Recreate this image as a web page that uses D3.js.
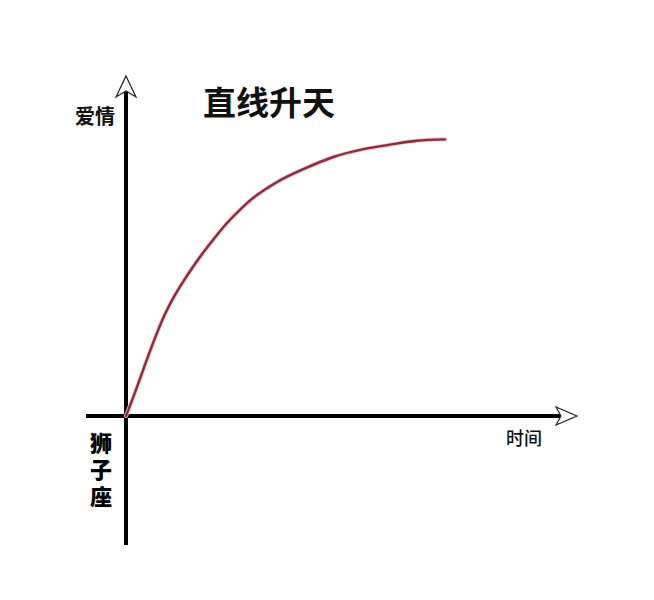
<!DOCTYPE html>
<html><head><meta charset="utf-8">
<script src="https://cdn.jsdelivr.net/npm/d3@7"></script>
<style>html,body{margin:0;padding:0;background:#fff;}svg{display:block;}</style>
</head><body>
<script>
const title = "直线升天";
const yLabel = "爱情";
const xLabel = "时间";
const bottomLabel = "狮子座";
const time = [0, 0.3, 0.6, 0.85, 1.17, 1.48, 1.9, 2.31, 2.73, 3.1, 3.46, 3.88, 4.71, 5.65, 6.48, 7.42, 8.25, 9.08, 9.97];
const love = [0, 0.9, 1.85, 2.62, 3.52, 4.22, 5.0, 5.68, 6.3, 6.82, 7.25, 7.7, 8.35, 8.87, 9.25, 9.53, 9.69, 9.83, 9.88];

const W = 654, H = 600;
const svg = d3.select("body").append("svg").attr("width", W).attr("height", H);
svg.append("rect").attr("width", W).attr("height", H).attr("fill", "#fff");

const x = d3.scaleLinear().domain([0, 10]).range([126, 446]);
const y = d3.scaleLinear().domain([0, 10]).range([416, 136]);

const font = "'Noto Sans CJK SC', sans-serif";

// axes lines
const x0 = x(0), y0 = y(0);
svg.append("line").attr("x1", 86).attr("x2", 560).attr("y1", y0).attr("y2", y0)
  .attr("stroke", "#000").attr("stroke-width", 4);
svg.append("line").attr("x1", x0).attr("x2", x0).attr("y1", 545).attr("y2", 92)
  .attr("stroke", "#000").attr("stroke-width", 4);

// arrowheads (open)
svg.append("path")
  .attr("d", `M${x0},76 L${x0 + 10},97 L${x0},91 L${x0 - 10},97 Z`)
  .attr("fill", "#fff").attr("stroke", "#222").attr("stroke-width", 1.2);
svg.append("path")
  .attr("d", `M577,${y0} L556,${y0 - 9} L561,${y0} L556,${y0 + 9} Z`)
  .attr("fill", "#fff").attr("stroke", "#222").attr("stroke-width", 1.2);

// curve
const pts = time.map((t, i) => [t, love[i]]);
const line = d3.line().x(d => x(d[0])).y(d => y(d[1])).curve(d3.curveMonotoneX);
svg.append("path").datum(pts).attr("d", line)
  .attr("fill", "none").attr("stroke", "#f4c0c8").attr("stroke-width", 4).attr("stroke-linecap", "round");
svg.append("path").datum(pts).attr("d", line)
  .attr("fill", "none").attr("stroke", "#8e2a3a").attr("stroke-width", 2.4).attr("stroke-linecap", "round");

// texts
svg.append("text").attr("x", 269).attr("y", 115).attr("text-anchor", "middle")
  .attr("font-family", font).attr("font-size", 33).attr("font-weight", 700).attr("fill", "#111").text(title);
svg.append("text").attr("x", 95).attr("y", 124).attr("text-anchor", "middle")
  .attr("font-family", font).attr("font-size", 20).attr("font-weight", 700).attr("fill", "#111").text(yLabel);
svg.append("text").attr("x", 524).attr("y", 445).attr("text-anchor", "middle")
  .attr("font-family", font).attr("font-size", 18).attr("font-weight", 500).attr("fill", "#111").text(xLabel);
svg.append("text").attr("x", 101).attr("y", 432)
  .attr("writing-mode", "vertical-rl").style("text-orientation", "upright")
  .attr("letter-spacing", 5)
  .attr("font-family", font).attr("font-size", 22).attr("font-weight", 900).attr("fill", "#000").text(bottomLabel);
</script>
</body></html>
